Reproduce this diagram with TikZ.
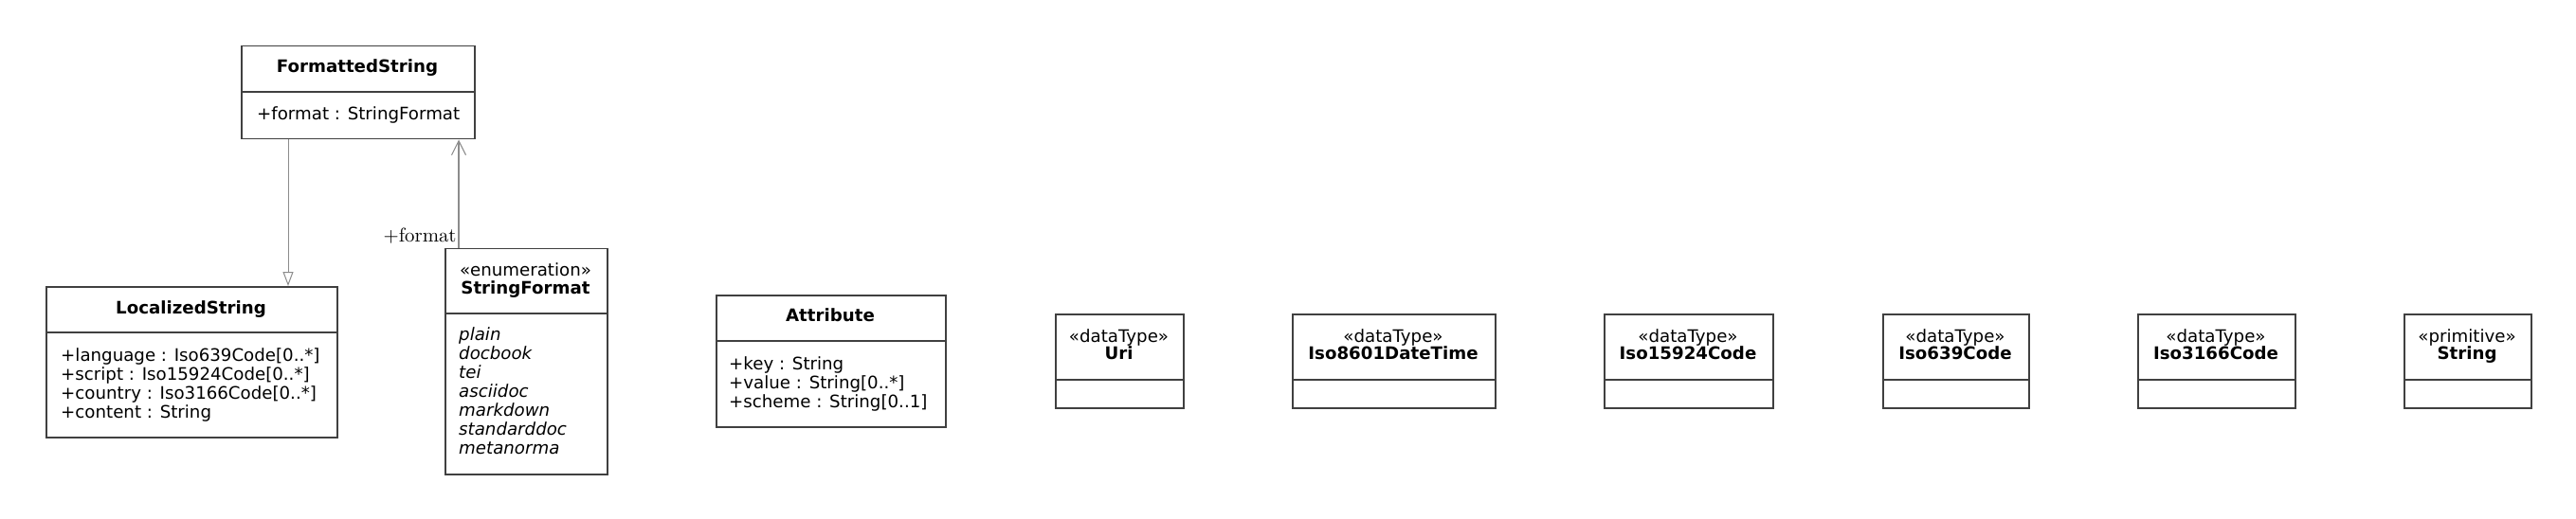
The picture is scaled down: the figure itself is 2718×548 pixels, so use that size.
\documentclass[tikz,border=0pt]{standalone}
\usepackage{fontspec}
\newfontfamily\dvsans{DejaVu Sans}
\usetikzlibrary{arrows.meta}
\newcommand\umlbox[6]{%
  \node[umlrect, minimum width={#4pt-#2pt}, minimum height={#5pt-#3pt}] (#1) at (#2,#3) {};
  \draw[boxline] (#2,#6) -- (#4,#6);}
\newcommand\utxt[5]{\node[txt, anchor=#2] (#1) at (#3,#4) {#5};}
\begin{document}
\begin{tikzpicture}[x=1pt,y=-1pt,
  umlrect/.style={draw=black!75, line width=1.5pt, inner sep=0pt, anchor=north west, fill=white},
  boxline/.style={draw=black!75, line width=1.5pt},
  txt/.style={inner sep=0pt, font=\dvsans\fontsize{18.2}{20}\selectfont},
  lbl/.style={inner sep=0pt, font=\normalfont\normalsize, scale=2.08},
  gen/.style={draw=black!45, line width=1pt, -{Triangle[open, length=15pt, width=11pt, fill=white]}},
  assoc/.style={draw=black!45, line width=1.1pt, -{Straight Barb[length=15pt, width=15pt]}}]
\useasboundingbox (0,0) rectangle (2718,548);
% FormattedString
\umlbox{fs}{254}{48}{500}{146}{97}
\utxt{fst}{base}{377}{77}{\bfseries FormattedString}
\utxt{fsa}{base west}{271}{127}{+format : StringFormat}
% LocalizedString
\umlbox{ls}{48}{302}{355}{461}{351}
\utxt{lst}{base}{201.5}{331}{\bfseries LocalizedString}
\utxt{lsa1}{base west}{64}{381}{+language : Iso639Code[0..*]}
\utxt{lsa2}{base west}{64}{401}{+script : Iso15924Code[0..*]}
\utxt{lsa3}{base west}{64}{421}{+country : Iso3166Code[0..*]}
\utxt{lsa4}{base west}{64}{441}{+content : String}
% StringFormat
\umlbox{sf}{469}{262}{640}{500}{331}
\utxt{sfs}{base}{554.5}{291}{«enumeration»}
\utxt{sft}{base}{554.5}{310}{\bfseries StringFormat}
\utxt{sf1}{base west}{484}{359}{\itshape plain}
\utxt{sf2}{base west}{484}{379}{\itshape docbook}
\utxt{sf3}{base west}{484}{399}{\itshape tei}
\utxt{sf4}{base west}{484}{419}{\itshape asciidoc}
\utxt{sf5}{base west}{484}{439}{\itshape markdown}
\utxt{sf6}{base west}{484}{459}{\itshape standarddoc}
\utxt{sf7}{base west}{484}{479}{\itshape metanorma}
% Attribute
\umlbox{at}{755}{311}{997}{450}{360}
\utxt{att}{base}{876}{339}{\bfseries Attribute}
\utxt{ata1}{base west}{769}{390}{+key : String}
\utxt{ata2}{base west}{769}{410}{+value : String[0..*]}
\utxt{ata3}{base west}{769}{430}{+scheme : String[0..1]}
% data types
\umlbox{uri}{1113}{331}{1248}{430}{401}
\utxt{uris}{base}{1180.5}{361}{«dataType»}
\utxt{urit}{base}{1180.5}{379}{\bfseries Uri}
\umlbox{dt}{1363}{331}{1577}{430}{401}
\utxt{dts}{base}{1470}{361}{«dataType»}
\utxt{dtt}{base}{1470}{379}{\bfseries Iso8601DateTime}
\umlbox{sc}{1692}{331}{1870}{430}{401}
\utxt{scs}{base}{1781}{361}{«dataType»}
\utxt{sct}{base}{1781}{379}{\bfseries Iso15924Code}
\umlbox{lc}{1986}{331}{2140}{430}{401}
\utxt{lcs}{base}{2063}{361}{«dataType»}
\utxt{lct}{base}{2063}{379}{\bfseries Iso639Code}
\umlbox{cc}{2255}{331}{2421}{430}{401}
\utxt{ccs}{base}{2338}{361}{«dataType»}
\utxt{cct}{base}{2338}{379}{\bfseries Iso3166Code}
\umlbox{st}{2536}{331}{2670}{430}{401}
\utxt{sts}{base}{2603}{361}{«primitive»}
\utxt{stt}{base}{2603}{379}{\bfseries String}
% connectors
\draw[gen] (304,0 |- fs.south) -- (304,0 |- ls.north);
\draw[assoc] (484,0 |- sf.north) -- (484,0 |- fs.south);
\node[lbl, anchor=base east] (fmtlbl) at (482,255) {+format};
\end{tikzpicture}
\end{document}
